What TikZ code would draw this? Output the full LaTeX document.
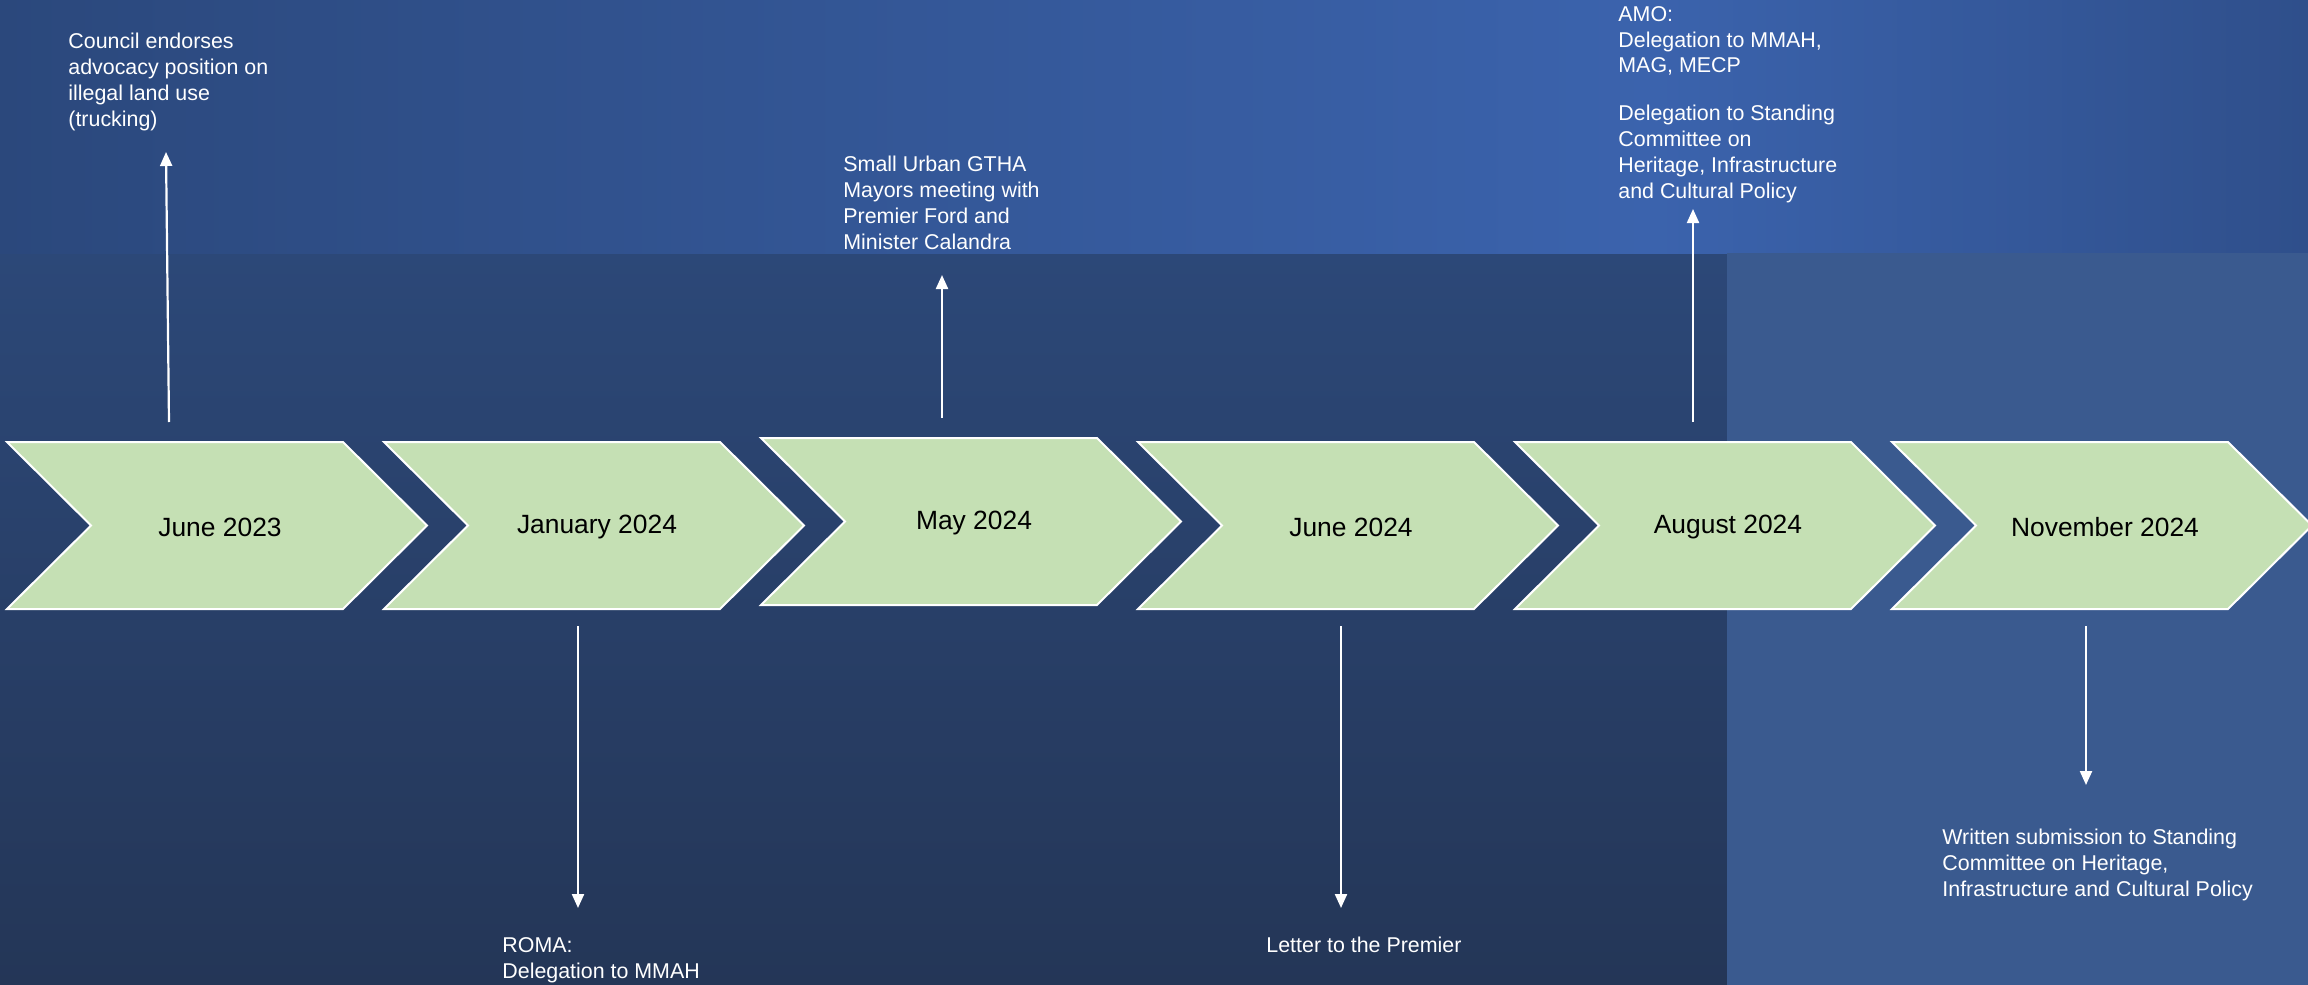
\documentclass[tikz,border=0pt]{standalone}
\usepackage{fontspec}
\setmainfont{Liberation Sans}
\usetikzlibrary{arrows.meta}

\definecolor{chevgreen}{HTML}{C5E0B4}
\definecolor{bgmainT}{HTML}{2C4878}
\definecolor{bgmainB}{HTML}{243657}
\definecolor{bgtopL}{HTML}{2B487C}
\definecolor{bgtopM}{HTML}{3B63AD}
\definecolor{bgtopR}{HTML}{2F4F8B}
\definecolor{panelblue}{HTML}{3A5A8F}

\begin{document}
\begin{tikzpicture}
          [x=0.5pt, y=-0.5pt,
           chev/.style={draw=white, line width=1pt, fill=chevgreen},
           month/.style={font=\fontsize{13.2}{15}\selectfont, text=black},
           note/.style={anchor=north west, inner sep=0, align=left, text=white, font=\fontsize{10.7}{12.9}\selectfont},
           arr/.style={draw=white, line width=1.1pt, -{Triangle[length=7pt,width=6pt]}}]

          % background
          \useasboundingbox (0,0) rectangle (2308,985);
          \shade[top color=bgmainT, bottom color=bgmainB] (0,253) rectangle (2308,985);
          \shade[left color=bgtopL, right color=bgtopM] (0,0) rectangle (1650,253);
          \shade[left color=bgtopM, right color=bgtopR] (1650,0) rectangle (2308,253);
          \fill[panelblue] (1727,253) rectangle (2308,985);

          % chevrons
          \foreach \x/\y/\m [count=\i] in {7/442/June 2023, 384/442/January 2024, 761/438/May 2024,
                                          1138/442/June 2024, 1515/442/August 2024, 1892/442/November 2024} {
            \draw[chev] (\x,\y) -- ++(336,0) -- ++(84,83.5) -- ++(-84,83.5) -- ++(-336,0) -- ++(84,-83.5) -- cycle;
            \node[month] (d\i) at (\x+213,\y+85) {\m};
          }

          \node[note] (t1) at (68,33) {Council endorses\\advocacy position on\\illegal land use\\(trucking)};
          \node[note] (t2) at (502,937) {ROMA:\\Delegation to MMAH};
          \node[note] (t3) at (843,156) {Small Urban GTHA\\Mayors meeting with\\Premier Ford and\\Minister Calandra};
          \node[note] (t4) at (1266,937) {Letter to the Premier};
          \node[note] (t5) at (1618,6) {AMO:\\Delegation to MMAH,\\MAG, MECP\\[11pt]Delegation to Standing\\Committee on\\Heritage, Infrastructure\\and Cultural Policy};
          \node[note] (t6) at (1942,829) {Written submission to Standing\\Committee on Heritage,\\Infrastructure and Cultural Policy};

          \coordinate (a1) at (169,422);
          \coordinate (b1) at (166,152);
          \coordinate (a2) at (578,626);
          \coordinate (b2) at (578,908);
          \coordinate (a3) at (942,418);
          \coordinate (b3) at (942,275);
          \coordinate (a4) at (1341,626);
          \coordinate (b4) at (1341,908);
          \coordinate (a5) at (1693,422);
          \coordinate (b5) at (1693,209);
          \coordinate (a6) at (2086,626);
          \coordinate (b6) at (2086,785);

          \draw[arr] (a1) -- (b1);
          \draw[arr] (a2) -- (b2);
          \draw[arr] (a3) -- (b3);
          \draw[arr] (a4) -- (b4);
          \draw[arr] (a5) -- (b5);
          \draw[arr] (a6) -- (b6);

        \end{tikzpicture}
\end{document}
